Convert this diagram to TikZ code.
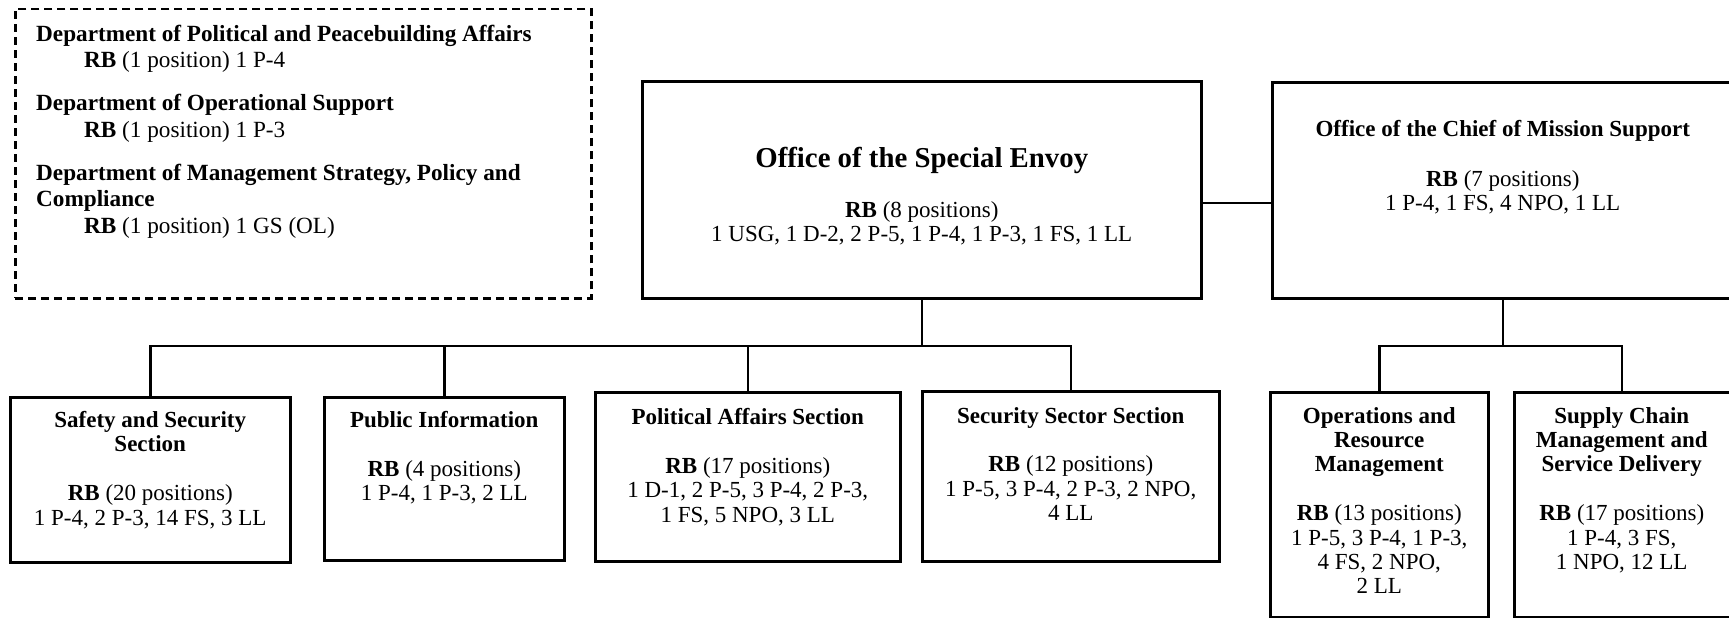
\documentclass[tikz,border=0pt]{standalone}
\usepackage{fontspec}
\setmainfont{Liberation Serif}
\begin{document}
\begin{tikzpicture}[x=1pt,y=-1pt,
  box/.style={draw, line width=2.5pt, rectangle, inner sep=0pt, anchor=north west},
  dashbox/.style={box, line width=2.5pt, dash pattern=on 8pt off 5pt},
  conn/.style={line width=2.5pt},
  txt/.style={inner sep=0pt, anchor=north, align=center, font=\fontsize{23}{24.4}\selectfont},
  title/.style={inner sep=0pt, anchor=north, align=center, font=\fontsize{28.8}{32}\selectfont\bfseries},
  note/.style={inner sep=0pt, anchor=north west, align=left, font=\fontsize{23.2}{26.5}\selectfont},
]
\useasboundingbox (0,0) rectangle (1729,618);
\fill[white] (0,0) rectangle (1729,618);

% Headquarters support listed beside the mission
\node[dashbox, minimum width=576pt, minimum height=289pt] (hq) at (14,8) {};
\node[note] (hqtxt) at (36,24.5) {%
  \textbf{Department of Political and Peacebuilding Affairs}\\
  \hspace*{48pt}\textbf{RB} (1 position) 1 P-4\\[16.5pt]
  \textbf{Department of Operational Support}\\
  \hspace*{48pt}\textbf{RB} (1 position) 1 P-3\\[16.5pt]
  \textbf{Department of Management Strategy, Policy and}\\
  \textbf{Compliance}\\
  \hspace*{48pt}\textbf{RB} (1 position) 1 GS (OL)};

% Top level offices
\node[box, minimum width=559pt, minimum height=217pt] (ose) at (641,80) {};
\node[title] (osetitle) at ([yshift=-67.5pt]ose.north) {Office of the Special Envoy};
\node[txt] (osetxt) at ([yshift=-121pt]ose.north) {\textbf{RB} (8 positions)\\1 USG, 1 D-2, 2 P-5, 1 P-4, 1 P-3, 1 FS, 1 LL};

\node[box, minimum width=461pt, minimum height=216pt] (cms) at (1271,81) {};
\node[txt] (cmstxt) at ([yshift=-39pt]cms.north) {\textbf{Office of the Chief of Mission Support}\\[25.5pt]\textbf{RB} (7 positions)\\1 P-4, 1 FS, 4 NPO, 1 LL};

% Sections under the Special Envoy
\node[box, minimum width=280pt, minimum height=165pt] (ssec) at (9,396) {};
\node[txt] (ssectxt) at ([yshift=-15pt]ssec.north) {\textbf{Safety and Security}\\\textbf{Section}\\[24.4pt]\textbf{RB} (20 positions)\\1 P-4, 2 P-3, 14 FS, 3 LL};

\node[box, minimum width=240pt, minimum height=163pt] (pio) at (323,396) {};
\node[txt] (piotxt) at ([yshift=-15pt]pio.north) {\textbf{Public Information}\\[24.4pt]\textbf{RB} (4 positions)\\1 P-4, 1 P-3, 2 LL};

\node[box, minimum width=305pt, minimum height=169pt] (pas) at (594,391) {};
\node[txt] (pastxt) at ([yshift=-17pt]pas.north) {\textbf{Political Affairs Section}\\[24.4pt]\textbf{RB} (17 positions)\\1 D-1, 2 P-5, 3 P-4, 2 P-3,\\1 FS, 5 NPO, 3 LL};

\node[box, minimum width=297pt, minimum height=170pt] (sss) at (921,390) {};
\node[txt] (ssstxt) at ([yshift=-17pt]sss.north) {\textbf{Security Sector Section}\\[24.4pt]\textbf{RB} (12 positions)\\1 P-5, 3 P-4, 2 P-3, 2 NPO,\\4 LL};

% Sections under Mission Support
\node[box, minimum width=218pt, minimum height=225pt] (orm) at (1269,391) {};
\node[txt] (ormtxt) at ([yshift=-16pt]orm.north) {\textbf{Operations and}\\\textbf{Resource}\\\textbf{Management}\\[24.4pt]\textbf{RB} (13 positions)\\1 P-5, 3 P-4, 1 P-3,\\4 FS, 2 NPO,\\2 LL};

\node[box, minimum width=219pt, minimum height=225pt] (scm) at (1513,391) {};
\node[txt] (scmtxt) at ([yshift=-16pt,xshift=-2pt]scm.north) {\textbf{Supply Chain}\\\textbf{Management and}\\\textbf{Service Delivery}\\[24.4pt]\textbf{RB} (17 positions)\\1 P-4, 3 FS,\\1 NPO, 12 LL};

% Reporting lines
\coordinate (busL) at (921,346);
\coordinate (busR) at (1501,346);
\draw[conn] ([yshift=-13pt]ose.east) -- ([yshift=-13pt]ose.east -| cms.west);
\draw[conn] (ose.south) -- (ose.south |- busL);
\draw[conn] (ssec.north) -- (ssec.north |- busL) -- (sss.north |- busL) -- (sss.north);
\draw[conn] (pio.north) -- (pio.north |- busL);
\draw[conn] (pas.north) -- (pas.north |- busL);
\draw[conn] (cms.south) -- (cms.south |- busR);
\draw[conn] (orm.north) -- (orm.north |- busR) -- ([xshift=-2pt]scm.north |- busR) -- ([xshift=-2pt]scm.north);
\end{tikzpicture}
\end{document}
